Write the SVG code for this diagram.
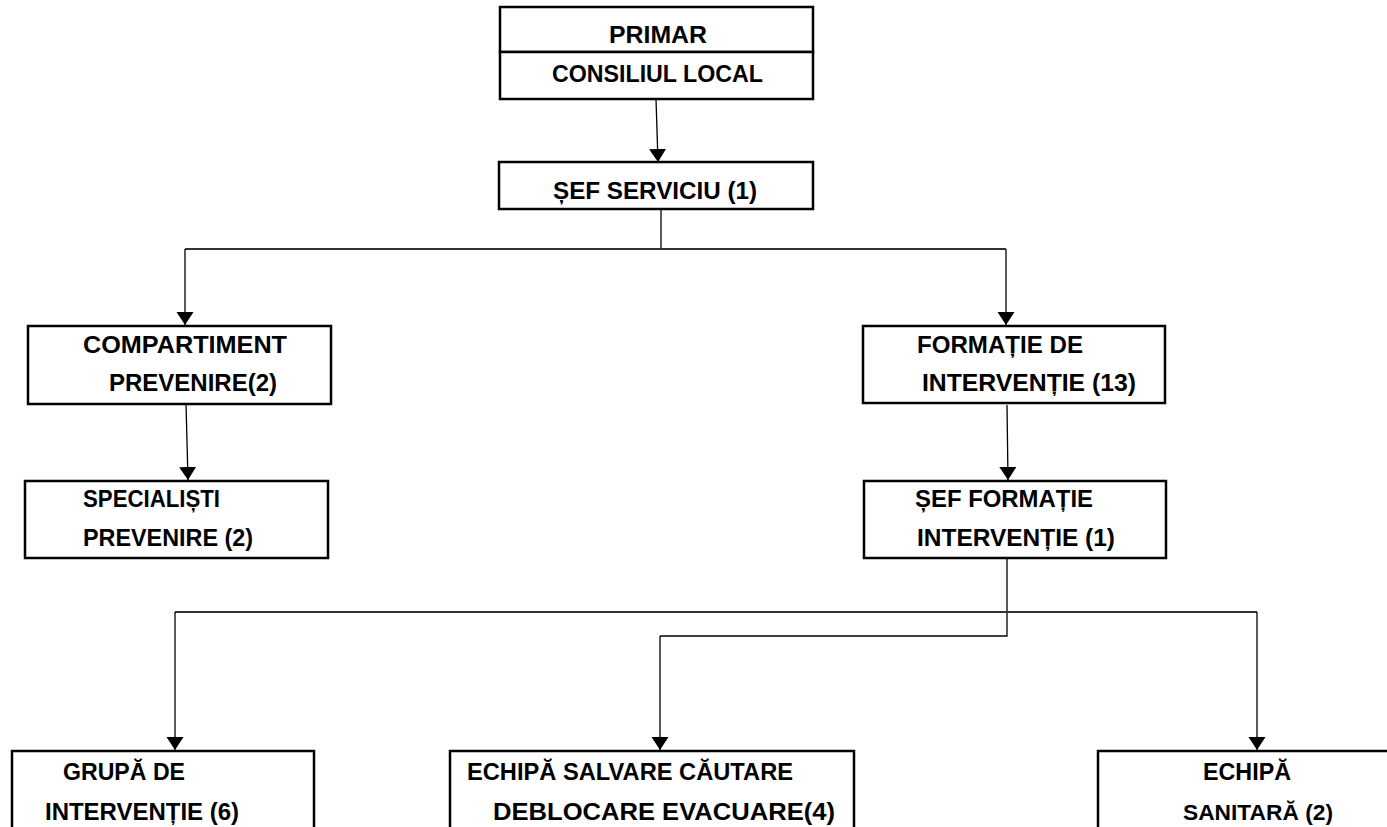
<svg xmlns="http://www.w3.org/2000/svg" width="1387" height="827" viewBox="0 0 1387 827">
<style>
.box{fill:#fff;stroke:#000;stroke-width:2.5}
.t{font-family:"Liberation Sans",Arial,sans-serif;font-weight:bold;font-size:24px;fill:#000}
.s{font-size:22px}
.c{fill:none;stroke:#000;stroke-width:1.3}
.bus{fill:none;stroke:#333;stroke-width:2}
</style>
<defs>
<marker id="arr" markerUnits="userSpaceOnUse" markerWidth="14" markerHeight="18" refX="13" refY="8.5" orient="auto">
<path d="M0,0 L13,8.5 L0,17 z" fill="#000"/>
</marker>
</defs>
<rect width="1387" height="827" fill="#fff"/>
<g id="connectors">
<line class="c" x1="656" y1="99" x2="658" y2="162" marker-end="url(#arr)"/>
<line class="c" x1="661" y1="209" x2="661" y2="249"/>
<polyline class="bus" points="661,249 185,249"/>
<polyline class="bus" points="661,249 1006,249"/>
<line class="c" x1="185" y1="249" x2="185" y2="325" marker-end="url(#arr)"/>
<line class="c" x1="1006" y1="249" x2="1006" y2="325" marker-end="url(#arr)"/>
<line class="c" x1="186" y1="403" x2="188" y2="480" marker-end="url(#arr)"/>
<line class="c" x1="1007" y1="405" x2="1008" y2="480" marker-end="url(#arr)"/>
<polyline class="c" points="1007,557 1007,636 660,636"/>
<line class="c" x1="660" y1="636" x2="660" y2="750" marker-end="url(#arr)"/>
<polyline class="bus" points="1007,612 175,612"/>
<polyline class="bus" points="1007,612 1257,612"/>
<line class="c" x1="175" y1="612" x2="175" y2="750" marker-end="url(#arr)"/>
<line class="c" x1="1257" y1="612" x2="1257" y2="750" marker-end="url(#arr)"/>
</g>
<g id="primar">
<rect class="box" x="500" y="7" width="313" height="45"/>
<text class="t" x="609" y="43" textLength="98" lengthAdjust="spacingAndGlyphs">PRIMAR</text>
</g>
<g id="consiliul">
<rect class="box" x="500" y="52" width="313" height="47"/>
<text class="t" x="552" y="82" textLength="211" lengthAdjust="spacingAndGlyphs">CONSILIUL LOCAL</text>
</g>
<g id="sef-serviciu">
<rect class="box" x="499" y="162" width="314" height="47"/>
<text class="t" x="553" y="199" textLength="204" lengthAdjust="spacingAndGlyphs">ȘEF SERVICIU (1)</text>
</g>
<g id="compartiment">
<rect class="box" x="28" y="326" width="303" height="78"/>
<text class="t" x="83" y="353" textLength="204" lengthAdjust="spacingAndGlyphs">COMPARTIMENT</text>
<text class="t" x="109" y="391" textLength="168" lengthAdjust="spacingAndGlyphs">PREVENIRE(2)</text>
</g>
<g id="specialisti">
<rect class="box" x="25" y="481" width="303" height="77"/>
<text class="t" x="83" y="507" textLength="137" lengthAdjust="spacingAndGlyphs">SPECIALIȘTI</text>
<text class="t" x="83" y="546" textLength="170" lengthAdjust="spacingAndGlyphs">PREVENIRE (2)</text>
</g>
<g id="formatie">
<rect class="box" x="863" y="326" width="302" height="77"/>
<text class="t" x="917" y="353" textLength="166" lengthAdjust="spacingAndGlyphs">FORMAȚIE DE</text>
<text class="t" x="922" y="391" textLength="214" lengthAdjust="spacingAndGlyphs">INTERVENȚIE (13)</text>
</g>
<g id="sef-formatie">
<rect class="box" x="864" y="481" width="302" height="77"/>
<text class="t" x="915" y="507" textLength="178" lengthAdjust="spacingAndGlyphs">ȘEF FORMAȚIE</text>
<text class="t" x="917" y="546" textLength="198" lengthAdjust="spacingAndGlyphs">INTERVENȚIE (1)</text>
</g>
<g id="grupa">
<rect class="box" x="12" y="751" width="302" height="100"/>
<text class="t" x="63" y="780" textLength="122" lengthAdjust="spacingAndGlyphs">GRUPĂ DE</text>
<text class="t" x="45" y="820" textLength="194" lengthAdjust="spacingAndGlyphs">INTERVENȚIE (6)</text>
</g>
<g id="echipa-salvare">
<rect class="box" x="450" y="751" width="404" height="100"/>
<text class="t" x="467" y="780" textLength="326" lengthAdjust="spacingAndGlyphs">ECHIPĂ SALVARE CĂUTARE</text>
<text class="t" x="493" y="820" textLength="342" lengthAdjust="spacingAndGlyphs">DEBLOCARE EVACUARE(4)</text>
</g>
<g id="echipa-sanitara">
<rect class="box" x="1098" y="751" width="320" height="100"/>
<text class="t" x="1203" y="780" textLength="88" lengthAdjust="spacingAndGlyphs">ECHIPĂ</text>
<text class="t s" x="1183" y="820" textLength="150" lengthAdjust="spacingAndGlyphs">SANITARĂ (2)</text>
</g>
</svg>
